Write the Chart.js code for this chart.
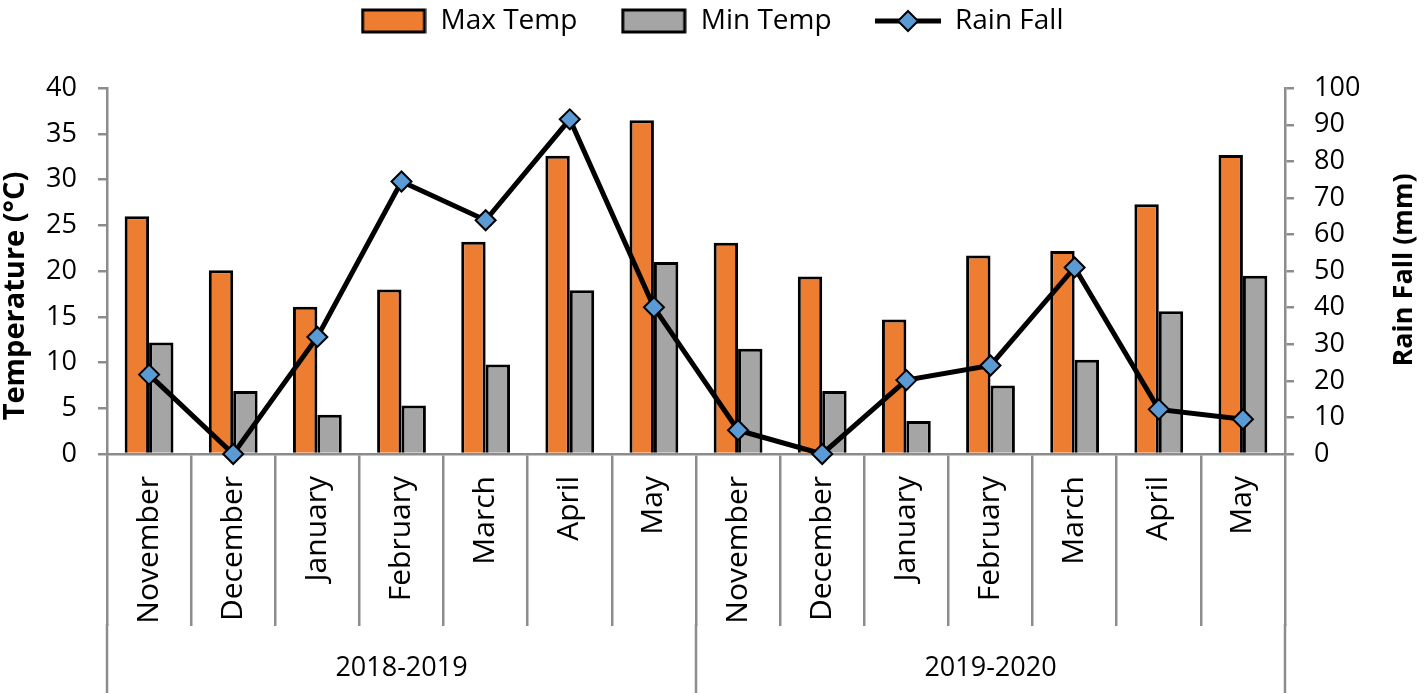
<!DOCTYPE html>
<html lang="en">
<head>
<meta charset="UTF-8">
<title>Temperature and Rain Fall</title>
<script src="https://cdn.jsdelivr.net/npm/chart.js"></script>
<style>
  html, body { margin: 0; padding: 0; background: #fff; }
  #wrap { width: 1424px; height: 693px; }
</style>
</head>
<body>
<div id="wrap"><canvas id="chart"></canvas></div>
<script>
// data
const months = ["November", "December", "January", "February", "March", "April", "May",
                "November", "December", "January", "February", "March", "April", "May"];
const seasons = ["2018-2019", "2019-2020"];
const monthsPerSeason = 7;
const maxTemp = [26.0, 20.1, 16.1, 18.0, 23.2, 32.6, 36.5, 23.1, 19.4, 14.7, 21.7, 22.2, 27.3, 32.7];
const minTemp = [12.2, 6.9, 4.3, 5.3, 9.8, 17.9, 21.0, 11.5, 6.9, 3.6, 7.5, 10.3, 15.6, 19.5];
const rainFall = [21.7, 0, 32.0, 74.5, 63.9, 91.5, 40.1, 6.5, 0, 20.2, 24.2, 51.0, 12.2, 9.5];
const tempTicks = [0, 5, 10, 15, 20, 25, 30, 35, 40];
const rainTicks = [0, 10, 20, 30, 40, 50, 60, 70, 80, 90, 100];

const FONT = "'Open Sans', sans-serif";
const axisGray = "#8c8c8c";
const orange = "#ED7D31";
const gray = "#A5A5A5";
const blue = "#5B9BD5";

Chart.defaults.font.family = FONT;
Chart.defaults.font.weight = "500";
Chart.defaults.color = "#000";

// legend swatches drawn as small images
function swatch(kind, fill) {
  const c = document.createElement("canvas");
  c.width = 66; c.height = 26;
  const g = c.getContext("2d");
  if (kind === "bar") {
    g.fillStyle = fill;
    g.fillRect(2, 2, 62, 22);
    g.lineWidth = 3;
    g.strokeStyle = "#000";
    g.strokeRect(2, 2, 62, 22);
  } else {
    g.strokeStyle = "#000";
    g.lineWidth = 5;
    g.beginPath(); g.moveTo(0, 13); g.lineTo(66, 13); g.stroke();
    g.fillStyle = fill;
    g.lineWidth = 2;
    g.beginPath();
    g.moveTo(33, 3); g.lineTo(43, 13); g.lineTo(33, 23); g.lineTo(23, 13); g.closePath();
    g.fill(); g.stroke();
  }
  return c;
}
const swatches = [swatch("bar", orange), swatch("bar", gray), swatch("line", blue)];

function fixTicks(values) {
  return scale => { scale.ticks = values.map(v => ({ value: v })); };
}

const sepLength = 172; // month separator lines under the axis

const groupAxis = {
  id: "groupAxis",
  afterDraw(chart) {
    const { ctx } = chart;
    const x = chart.scales.x;
    const half = (x.getPixelForValue(1) - x.getPixelForValue(0)) / 2;
    ctx.save();
    ctx.strokeStyle = axisGray;
    ctx.lineWidth = 2.5;
    for (let k = 0; k <= seasons.length; k++) {
      const i = k * monthsPerSeason;
      const px = i < months.length ? x.getPixelForValue(i) - half
                                   : x.getPixelForValue(months.length - 1) + half;
      ctx.beginPath();
      ctx.moveTo(px, x.top + sepLength - 2);
      ctx.lineTo(px, chart.height);
      ctx.stroke();
    }
    ctx.fillStyle = "#000";
    ctx.textAlign = "center";
    ctx.textBaseline = "middle";
    ctx.font = "500 27px " + FONT;
    seasons.forEach((s, k) => {
      const a = x.getPixelForValue(k * monthsPerSeason);
      const b = x.getPixelForValue(k * monthsPerSeason + monthsPerSeason - 1);
      ctx.fillText(s, (a + b) / 2, x.top + 214);
    });
    // axis titles
    ctx.save();
    ctx.font = "bold 29px " + FONT;
    ctx.translate(16, 296);
    ctx.rotate(-Math.PI / 2);
    ctx.fillText("Temperature (\u00B0C)", 0, 0);
    ctx.restore();
    ctx.save();
    ctx.font = "bold 27px " + FONT;
    ctx.translate(1404, 270);
    ctx.rotate(-Math.PI / 2);
    ctx.fillText("Rain Fall (mm)", 0, 0);
    ctx.restore();
    ctx.restore();
  }
};

new Chart(document.getElementById("chart"), {
  data: {
    labels: months,
    datasets: [
      {
        type: "bar",
        label: "Max Temp",
        data: maxTemp,
        backgroundColor: orange,
        borderColor: "#000",
        borderWidth: 3,
        yAxisID: "y",
        order: 1,
        categoryPercentage: 0.58,
        barPercentage: 1
      },
      {
        type: "bar",
        label: "Min Temp",
        data: minTemp,
        backgroundColor: gray,
        borderColor: "#000",
        borderWidth: 3,
        yAxisID: "y",
        order: 1,
        categoryPercentage: 0.58,
        barPercentage: 1
      },
      {
        type: "line",
        label: "Rain Fall",
        data: rainFall,
        borderColor: "#000",
        borderWidth: 5,
        pointStyle: "rectRot",
        pointRadius: 10,
        pointBackgroundColor: blue,
        pointBorderColor: "#000",
        pointBorderWidth: 2,
        tension: 0,
        clip: false,
        yAxisID: "y1",
        order: 0
      }
    ]
  },
  options: {
    responsive: true,
    maintainAspectRatio: false,
    animation: false,
    layout: { padding: 0 },
    plugins: {
      legend: {
        position: "top",
        labels: {
          usePointStyle: true,
          pointStyleWidth: 66,
          padding: 7,
          font: { size: 28 },
          color: "#000",
          generateLabels(chart) {
            const items = Chart.defaults.plugins.legend.labels.generateLabels(chart);
            items.sort((a, b) => a.datasetIndex - b.datasetIndex);
            items.forEach((it, i) => {
              it.pointStyle = swatches[it.datasetIndex];
              if (i < items.length - 1) it.text = it.text + "     ";
            });
            return items;
          }
        }
      },
      title: {
        display: true,
        text: " ",
        weight: 500,
        font: { size: 1 },
        padding: { top: 0, bottom: 42 }
      },
      tooltip: { enabled: false }
    },
    scales: {
      x: {
        type: "category",
        offset: true,
        grid: {
          offset: true,
          drawOnChartArea: false,
          drawTicks: true,
          tickLength: sepLength,
          color: axisGray,
          lineWidth: 2.5
        },
        border: { color: axisGray, width: 2.5 },
        ticks: {
          autoSkip: false,
          minRotation: 90,
          maxRotation: 90,
          padding: 22 - sepLength,
          font: { size: 30 },
          color: "#000"
        },
        afterFit(scale) { scale.height = 239; }
      },
      y: {
        position: "left",
        min: 0,
        max: 40,
        afterBuildTicks: fixTicks(tempTicks),
        grid: { drawOnChartArea: false, drawTicks: true, tickLength: 9, color: axisGray, lineWidth: 2.5 },
        border: { color: axisGray, width: 2.5 },
        ticks: { padding: 21, font: { size: 27 }, color: "#000" },
        afterFit(scale) { scale.width = 107; }
      },
      y1: {
        position: "right",
        min: 0,
        max: 100,
        afterBuildTicks: fixTicks(rainTicks),
        grid: { drawOnChartArea: false, drawTicks: true, tickLength: 9, color: axisGray, lineWidth: 2.5 },
        border: { color: axisGray, width: 2.5 },
        ticks: { padding: 20, font: { size: 27 }, color: "#000" },
        afterFit(scale) { scale.width = 139; }
      }
    }
  },
  plugins: [groupAxis]
});
</script>
</body>
</html>
